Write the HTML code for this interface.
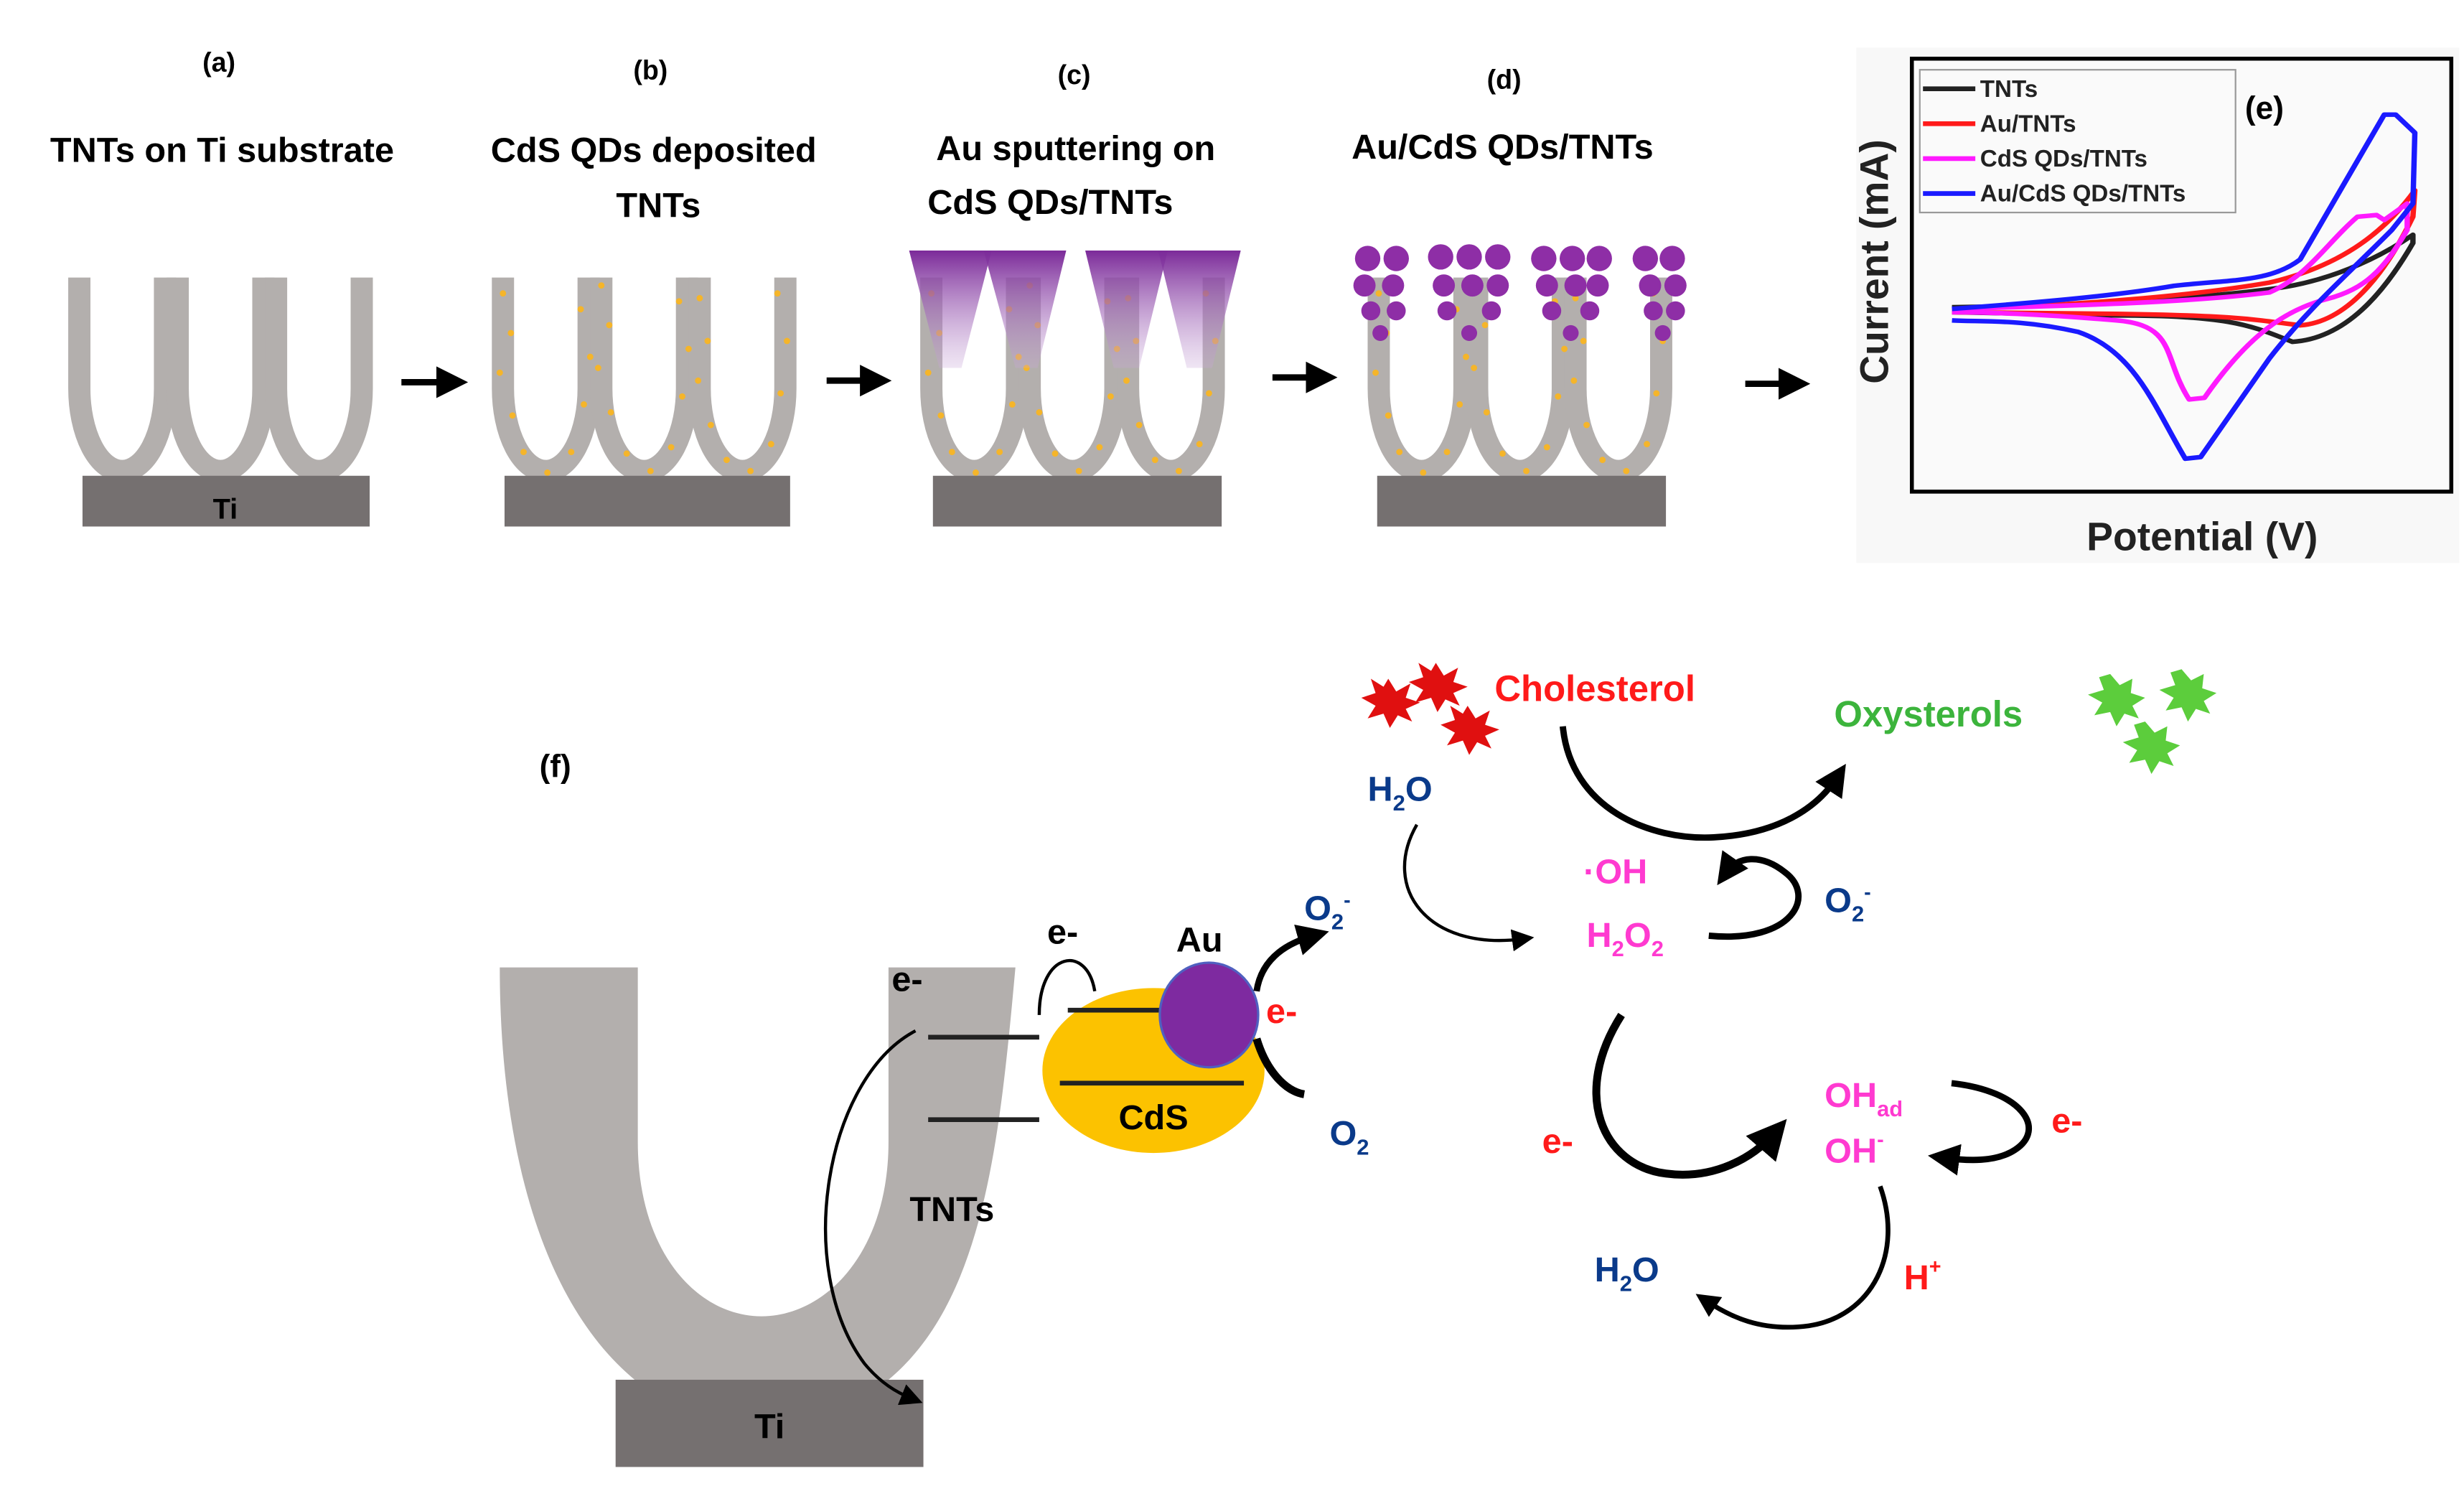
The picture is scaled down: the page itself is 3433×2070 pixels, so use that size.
<!DOCTYPE html>
<html><head><meta charset="utf-8"><style>
html,body{margin:0;padding:0;background:#fff}
svg{display:block}
text{font-family:"Liberation Sans",sans-serif;font-weight:bold}
</style></head><body>
<svg width="3433" height="2070" viewBox="0 0 1553 937" preserveAspectRatio="none" xmlns="http://www.w3.org/2000/svg">
<defs>
<marker id="ah" viewBox="0 0 10 10" refX="5" refY="5" markerWidth="5" markerHeight="5" orient="auto"><path d="M0,0 L10,5 L0,10 z" fill="#000"/></marker>
<marker id="ahs" viewBox="0 0 10 10" refX="5" refY="5" markerWidth="7" markerHeight="7" orient="auto"><path d="M0,0 L10,5 L0,10 z" fill="#000"/></marker>
<linearGradient id="pg" x1="0" y1="0" x2="0" y2="1"><stop offset="0" stop-color="#7b2a99"/><stop offset="1" stop-color="#c9a8d8" stop-opacity="0.3"/></linearGradient>
<g id="tubes" fill="none" stroke="#b3afad" stroke-width="14">
<path d="M57,175 V245 A27,52 0 0 0 111,245 V175"/>
<path d="M119,175 V245 A27,52 0 0 0 173,245 V175"/>
<path d="M181,175 V245 A27,52 0 0 0 235,245 V175"/>
</g>
<g id="dots" fill="#f5b52a">
<circle cx="57" cy="185" r="2"/><circle cx="62" cy="210" r="2"/><circle cx="55" cy="235" r="2"/><circle cx="63" cy="262" r="2"/><circle cx="70" cy="285" r="2"/><circle cx="85" cy="298" r="2"/><circle cx="100" cy="285" r="2"/><circle cx="108" cy="255" r="2"/><circle cx="112" cy="225" r="2"/><circle cx="106" cy="195" r="2"/>
<circle cx="119" cy="180" r="2"/><circle cx="124" cy="205" r="2"/><circle cx="117" cy="232" r="2"/><circle cx="125" cy="260" r="2"/><circle cx="135" cy="286" r="2"/><circle cx="150" cy="297" r="2"/><circle cx="163" cy="282" r="2"/><circle cx="170" cy="250" r="2"/><circle cx="174" cy="220" r="2"/><circle cx="168" cy="190" r="2"/>
<circle cx="181" cy="188" r="2"/><circle cx="186" cy="215" r="2"/><circle cx="180" cy="240" r="2"/><circle cx="188" cy="268" r="2"/><circle cx="198" cy="290" r="2"/><circle cx="213" cy="297" r="2"/><circle cx="226" cy="280" r="2"/><circle cx="232" cy="248" r="2"/><circle cx="236" cy="215" r="2"/><circle cx="230" cy="185" r="2"/>
</g>
</defs>

<!-- (a) -->
<text x="138" y="45" font-size="17" text-anchor="middle" font-weight="normal">(a)</text>
<text x="140" y="102" font-size="22" text-anchor="middle">TNTs on Ti substrate</text>
<use href="#tubes" transform="translate(-7,0)"/>
<rect x="52" y="300" width="181" height="32" fill="#757070"/>
<text x="142" y="327" font-size="18" text-anchor="middle">Ti</text>

<!-- (b) -->
<text x="410" y="50" font-size="17" text-anchor="middle" font-weight="normal">(b)</text>
<text x="412" y="102" font-size="22" text-anchor="middle">CdS QDs deposited</text>
<text x="415" y="137" font-size="22" text-anchor="middle">TNTs</text>
<use href="#tubes" transform="translate(260,0)"/>
<use href="#dots" transform="translate(260,0)"/>
<rect x="318" y="300" width="180" height="32" fill="#757070"/>

<!-- (c) -->
<text x="677" y="53" font-size="17" text-anchor="middle" font-weight="normal">(c)</text>
<text x="678" y="101" font-size="22" text-anchor="middle">Au sputtering on</text>
<text x="662" y="135" font-size="22" text-anchor="middle">CdS QDs/TNTs</text>
<use href="#tubes" transform="translate(530,0)"/>
<use href="#dots" transform="translate(530,0)"/>
<g fill="url(#pg)">
<path d="M573,158 L625,158 L606,232 L592,232 z"/>
<path d="M620,158 L672,158 L654,232 L640,232 z"/>
<path d="M684,158 L736,158 L718,232 L702,232 z"/>
<path d="M730,158 L782,158 L764,232 L748,232 z"/>
</g>
<rect x="588" y="300" width="182" height="32" fill="#757070"/>

<!-- (d) -->
<text x="948" y="56" font-size="17" text-anchor="middle" font-weight="normal">(d)</text>
<text x="947" y="100" font-size="22" text-anchor="middle">Au/CdS QDs/TNTs</text>
<use href="#tubes" transform="translate(812,0)"/>
<use href="#dots" transform="translate(812,0)"/>
<g fill="#8e2ea6">
<circle cx="862" cy="163" r="8"/><circle cx="880" cy="163" r="8"/><circle cx="860" cy="180" r="7"/><circle cx="878" cy="180" r="7"/><circle cx="864" cy="196" r="6"/><circle cx="880" cy="196" r="6"/><circle cx="870" cy="210" r="5"/>
<circle cx="908" cy="162" r="8"/><circle cx="926" cy="162" r="8"/><circle cx="944" cy="162" r="8"/><circle cx="910" cy="180" r="7"/><circle cx="928" cy="180" r="7"/><circle cx="944" cy="180" r="7"/><circle cx="912" cy="196" r="6"/><circle cx="940" cy="196" r="6"/><circle cx="926" cy="210" r="5"/>
<circle cx="973" cy="163" r="8"/><circle cx="991" cy="163" r="8"/><circle cx="1008" cy="163" r="8"/><circle cx="975" cy="180" r="7"/><circle cx="993" cy="180" r="7"/><circle cx="1007" cy="180" r="7"/><circle cx="978" cy="196" r="6"/><circle cx="1002" cy="196" r="6"/><circle cx="990" cy="210" r="5"/>
<circle cx="1037" cy="163" r="8"/><circle cx="1054" cy="163" r="8"/><circle cx="1040" cy="180" r="7"/><circle cx="1056" cy="180" r="7"/><circle cx="1042" cy="196" r="6"/><circle cx="1056" cy="196" r="6"/><circle cx="1048" cy="210" r="5"/>
</g>
<rect x="868" y="300" width="182" height="32" fill="#757070"/>

<!-- arrows top -->
<g stroke="#000" stroke-width="4" marker-end="url(#ah)">
<line x1="253" y1="241" x2="285" y2="241"/>
<line x1="521" y1="240" x2="552" y2="240"/>
<line x1="802" y1="238" x2="833" y2="238"/>
<line x1="1100" y1="242" x2="1131" y2="242"/>
</g>

<!-- (e) -->
<rect x="1170" y="30" width="380" height="325" fill="#f8f8f8"/>
<rect x="1205" y="37" width="340" height="273" fill="#fafafa" stroke="#000" stroke-width="2.5"/>
<rect x="1210" y="44" width="199" height="90" fill="#fafafa" stroke="#999" stroke-width="1"/>
<g transform="translate(1189.3,28.7) scale(0.2411,0.2076)" fill="none" stroke-width="14" stroke-linejoin="round">
<path stroke="#222" d="M170,795 C500,790 800,770 1000,740 C1150,720 1280,650 1375,575 L1375,600 C1300,750 1200,890 1060,900 C950,850 900,820 600,820 L170,810"/>
<path stroke="#ff1a1a" d="M170,800 C500,790 800,760 1000,720 C1150,680 1280,600 1380,440 L1375,520 C1300,700 1200,840 1080,850 C950,830 900,820 600,815 L170,810"/>
<path stroke="#ff1aff" d="M170,800 C500,790 800,780 1000,750 C1100,700 1150,600 1230,520 L1280,515 L1300,530 L1360,480 L1360,560 C1300,680 1250,740 1150,770 C1050,800 950,870 830,1070 L790,1075 C720,950 760,850 600,835 C400,815 250,810 170,810"/>
<path stroke="#1a1aff" d="M170,800 C400,780 600,760 750,730 C900,710 1000,720 1080,650 L1300,210 L1330,210 L1380,265 L1375,480 L1320,560 C1200,700 1100,800 1000,950 L820,1250 L780,1255 C700,1100 650,930 500,870 C350,830 250,840 170,835"/>
</g>
<g stroke-width="3">
<line x1="1212" y1="56" x2="1245" y2="56" stroke="#222"/>
<line x1="1212" y1="78" x2="1245" y2="78" stroke="#ff1a1a"/>
<line x1="1212" y1="100" x2="1245" y2="100" stroke="#ff1aff"/>
<line x1="1212" y1="122" x2="1245" y2="122" stroke="#1a1aff"/>
</g>
<g font-size="15" fill="#222">
<text x="1248" y="61">TNTs</text>
<text x="1248" y="83">Au/TNTs</text>
<text x="1248" y="105">CdS QDs/TNTs</text>
<text x="1248" y="127">Au/CdS QDs/TNTs</text>
</g>
<text x="1415" y="75" font-size="20">(e)</text>
<text transform="translate(1190,165) rotate(-90)" font-size="25" text-anchor="middle" fill="#222">Current (mA)</text>
<text x="1388" y="347" font-size="25" text-anchor="middle" fill="#222">Potential (V)</text>

<!-- (f) -->
<text x="340" y="490" font-size="20" font-weight="normal">(f)</text>
<path d="M315,610 H402 V720 C402,790 440,830 480,830 C520,830 560,790 560,720 V610 H640 C630,720 620,820 560,870 C520,900 440,900 400,870 C340,820 315,720 315,610 z" fill="#b3afad"/>
<rect x="388" y="870" width="194" height="55" fill="#757070"/>
<text x="485" y="907" font-size="22" text-anchor="middle">Ti</text>
<text x="600" y="770" font-size="22" text-anchor="middle">TNTs</text>
<line x1="585" y1="654" x2="655" y2="654" stroke="#222" stroke-width="3"/>
<line x1="585" y1="706" x2="655" y2="706" stroke="#222" stroke-width="3"/>
<text x="562" y="625" font-size="22">e-</text>
<path d="M577,650 C520,680 500,800 545,860 C555,872 565,878 575,882" fill="none" stroke="#000" stroke-width="2" marker-end="url(#ahs)"/>

<ellipse cx="727" cy="675" rx="70" ry="52" fill="#fcc200"/>
<line x1="673" y1="637" x2="745" y2="637" stroke="#222" stroke-width="3"/>
<line x1="668" y1="683" x2="784" y2="683" stroke="#222" stroke-width="3"/>
<text x="727" y="712" font-size="22" text-anchor="middle">CdS</text>
<ellipse cx="762" cy="640" rx="31" ry="33" fill="#7e2aa0" stroke="#5060c0" stroke-width="1.5"/>
<text x="756" y="600" font-size="22" text-anchor="middle">Au</text>
<text x="660" y="595" font-size="22">e-</text>
<path d="M655,640 C655,600 685,595 690,625" fill="none" stroke="#000" stroke-width="2"/>
<text x="798" y="645" font-size="22" fill="#ff1a1a">e-</text>
<path d="M792,625 C795,605 810,595 828,590" fill="none" stroke="#000" stroke-width="4" marker-end="url(#ah)"/>
<path d="M792,655 C798,675 810,688 822,690" fill="none" stroke="#000" stroke-width="5"/>
<text x="822" y="580" font-size="22" fill="#0a3a8a">O<tspan font-size="14" dy="6">2</tspan><tspan font-size="13" dy="-14">-</tspan></text>
<text x="838" y="722" font-size="22" fill="#0a3a8a">O<tspan font-size="14" dy="6">2</tspan></text>

<text x="862" y="505" font-size="22" fill="#0a3a8a">H<tspan font-size="14" dy="6">2</tspan><tspan dy="-6">O</tspan></text>
<path d="M893,520 C870,560 900,600 960,592" fill="none" stroke="#000" stroke-width="2" marker-end="url(#ahs)"/>
<text x="998" y="557" font-size="22" fill="#ff3ad0">·OH</text>
<text x="1000" y="597" font-size="22" fill="#ff3ad0">H<tspan font-size="14" dy="6">2</tspan><tspan dy="-6">O</tspan><tspan font-size="14" dy="6">2</tspan></text>
<path d="M1077,590 C1130,595 1145,565 1125,550 C1110,538 1095,540 1088,550" fill="none" stroke="#000" stroke-width="4" marker-end="url(#ah)"/>
<text x="1150" y="575" font-size="22" fill="#0a3a8a">O<tspan font-size="14" dy="6">2</tspan><tspan font-size="13" dy="-14">-</tspan></text>

<g fill="#e01010">
<polygon points="875,428 880,436 889,431 886,440 895,443 886,447 890,455 881,451 876,459 872,450 862,453 867,445 858,440 867,437 864,428 872,433"/>
<polygon points="905,418 910,426 919,421 916,430 925,433 916,437 920,445 911,441 906,449 902,440 892,443 897,435 888,430 897,427 894,418 902,423"/>
<polygon points="925,445 930,453 939,448 936,457 945,460 936,464 940,472 931,468 926,476 922,467 912,470 917,462 908,457 917,454 914,445 922,450"/>
</g>
<text x="942" y="442" font-size="23" fill="#ff1a1a">Cholesterol</text>
<text x="1156" y="458" font-size="23" fill="#3cb43c">Oxysterols</text>
<g fill="#5ccd3c">
<polygon points="1330,425 1336,432 1344,428 1343,437 1352,440 1344,445 1348,453 1339,450 1334,458 1330,449 1320,451 1325,443 1316,438 1326,435 1323,427"/>
<polygon points="1375,422 1381,429 1389,425 1388,434 1397,437 1389,442 1393,450 1384,447 1379,455 1375,446 1365,448 1370,440 1361,435 1371,432 1368,424"/>
<polygon points="1352,455 1358,462 1366,458 1365,467 1374,470 1366,475 1370,483 1361,480 1356,488 1352,479 1342,481 1347,473 1338,468 1348,465 1345,457"/>
</g>
<path d="M985,458 C990,510 1040,530 1080,528 C1120,526 1145,510 1158,490" fill="none" stroke="#000" stroke-width="4" marker-end="url(#ah)"/>

<path d="M1022,640 C990,690 1010,735 1050,740 C1080,744 1105,730 1118,715" fill="none" stroke="#000" stroke-width="5" marker-end="url(#ah)"/>
<text x="972" y="727" font-size="22" fill="#ff1a1a">e-</text>
<text x="1150" y="698" font-size="22" fill="#ff3ad0">OH<tspan font-size="14" dy="6">ad</tspan></text>
<text x="1150" y="733" font-size="22" fill="#ff3ad0">OH<tspan font-size="13" dy="-10">-</tspan></text>
<path d="M1230,683 C1275,688 1290,712 1270,725 C1258,733 1240,732 1225,730" fill="none" stroke="#000" stroke-width="4" marker-end="url(#ah)"/>
<text x="1293" y="714" font-size="22" fill="#ff1a1a">e-</text>
<path d="M1185,748 C1200,790 1180,830 1140,836 C1110,840 1090,830 1075,820" fill="none" stroke="#000" stroke-width="3" marker-end="url(#ah)"/>
<text x="1200" y="813" font-size="22" fill="#ff1a1a">H<tspan font-size="13" dy="-10">+</tspan></text>
<text x="1005" y="808" font-size="22" fill="#0a3a8a">H<tspan font-size="14" dy="6">2</tspan><tspan dy="-6">O</tspan></text>
</svg>
</body></html>
